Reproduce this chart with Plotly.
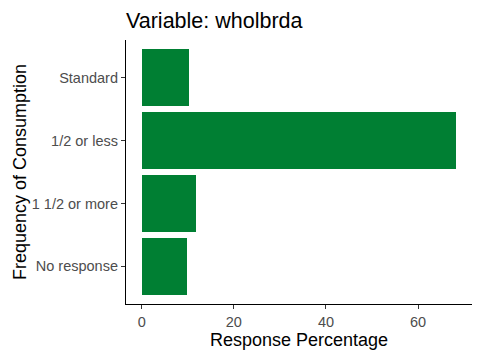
import plotly.graph_objects as go

categories = ["Standard", "1/2 or less", "1 1/2 or more", "No response"]
values = [10.2, 68.3, 11.7, 9.8]
x_ticks = [0, 20, 40, 60]

fig = go.Figure(go.Bar(
    x=values, y=categories, orientation="h",
    marker=dict(color="#007F33", line=dict(width=0)),
    width=0.9,
))

fig.update_layout(
    width=480, height=360,
    margin=dict(l=126, r=8, t=40, b=56),
    paper_bgcolor="white", plot_bgcolor="white",
    font=dict(family="Liberation Sans, Arial, sans-serif"),
    title=dict(text="Variable: wholbrda", x=126/480, xanchor="left",
               y=1 - 20/360, yanchor="middle",
               font=dict(size=21.5, color="black")),
    showlegend=False,
    bargap=0,
)
fig.update_xaxes(
    range=[-3.42, 71.7], tickvals=x_ticks, showgrid=False, zeroline=False,
    showline=True, linecolor="black", linewidth=1.2,
    ticks="outside", ticklen=4, tickcolor="#333333",
    tickfont=dict(size=14.5, color="#4D4D4D"),
    title=dict(text="Response Percentage", font=dict(size=18, color="black"), standoff=4),
    automargin=False,
)
fig.update_yaxes(
    categoryorder="array", categoryarray=categories[::-1],
    range=[-0.6, 3.6], showgrid=False, zeroline=False,
    showline=True, linecolor="black", linewidth=1.2,
    ticks="outside", ticklen=4, tickcolor="#333333",
    tickfont=dict(size=14.5, color="#4D4D4D"),
    automargin=False,
)
fig.add_annotation(
    text="Frequency of Consumption", textangle=-90,
    xref="paper", yref="paper", x=(20 - 126) / 346, y=0.5,
    xanchor="center", yanchor="middle", showarrow=False,
    font=dict(size=18, color="black"),
)

fig.write_html("out.html", config={"displayModeBar": False},
               post_script="document.body.style.margin='0';")
